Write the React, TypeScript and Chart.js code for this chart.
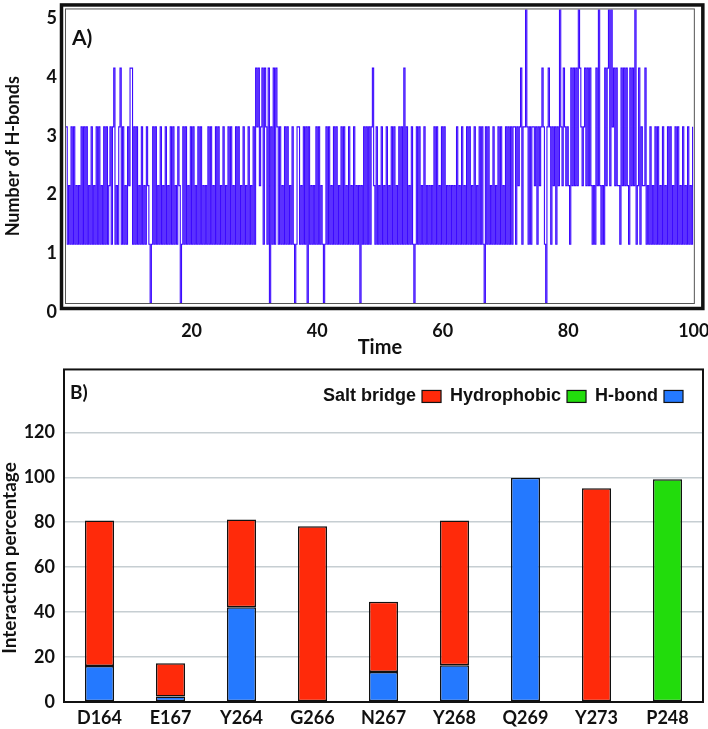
import React, { useEffect, useRef } from 'react';
import { Chart, registerables } from 'chart.js';

Chart.register(...registerables);

// ---------------- Panel A : number of H-bonds vs time ----------------
const TIME_STEP_NS = 0.2;
// one string per 5 ns, one digit per 0.2 ns frame (spaces only group the digits by 1 ns)
const HBOND_SEGMENTS = [
  '31213 13121 21313 13121 31213', // 0-5
  '13121 31312 31341 21341 31213', // 5-10
  '24413 13121 31213 21013 13121', // 10-15
  '31213 12131 31213 20131 31213', // 15-20
  '13121 31312 12131 31213 13121', // 20-25
  '31213 13121 31312 13121 31213', // 25-30
  '14342 34143 14031 41431 31213', // 30-35
  '13121 31013 31213 13031 21213', // 35-40
  '13121 01313 12131 31213 13121', // 40-45
  '31213 12120 21313 13134 21312', // 45-50
  '13121 31213 13121 31314 13121', // 50-55
  '31013 13121 31212 12131 31213', // 55-60
  '13121 21212 13121 31213 13121', // 60-65
  '31213 13103 13121 31213 13121', // 65-70
  '31313 13313 23413 35313 13323', // 70-75
  '13234 31034 31323 13253 24323', // 75-80
  '21424 24254 32342 42421 21425', // 80-85
  '21214 24525 34242 21424 24214', // 85-90
  '24251 24132 24121 31213 13121', // 90-95
  '31213 13121 31312 13121 31213', // 95-100
];
const TIME_TICKS = [20, 40, 60, 80, 100];
const HBOND_TICKS = [0, 1, 2, 3, 4, 5];

// ---------------- Panel B : interaction percentage ----------------
const RESIDUES = ['D164', 'E167', 'Y264', 'G266', 'N267', 'Y268', 'Q269', 'Y273', 'P248'];
const HBOND_PCT = [16, 2.5, 42.2, null, 13.3, 16.3, 99.8, null, null];
const SALT_BRIDGE_PCT = [64.8, 14.8, 39.0, 78.2, 31.3, 64.5, null, 95.1, null];
const HYDROPHOBIC_PCT = [null, null, null, null, null, null, null, null, 99.1];
const PCT_TICKS = [0, 20, 40, 60, 80, 100, 120];
const LEGEND_ORDER = ['Salt bridge', 'Hydrophobic', 'H-bond'];

const FONT = 'Lato';
const INK = '#111111';

const hbondValues = HBOND_SEGMENTS.join('').replace(/\s/g, '').split('').map(Number);
const hbondPoints = hbondValues.map((v, i) => ({ x: i * TIME_STEP_NS, y: v }));

const frameA = {
  id: 'frameA',
  afterDraw(chart: any) {
    const { ctx, chartArea: a } = chart;
    ctx.save();
    ctx.strokeStyle = '#555';
    ctx.lineWidth = 1;
    ctx.strokeRect(a.left - 0.5, a.top - 0.5, a.right - a.left + 1, a.bottom - a.top + 1);
    ctx.strokeStyle = INK;
    ctx.lineWidth = 3.5;
    ctx.strokeRect(a.left - 4.5, a.top - 4.5, a.right - a.left + 13.5, a.bottom - a.top + 10);
    ctx.fillStyle = INK;
    ctx.font = `bold 21px ${FONT}`;
    ctx.textAlign = 'left';
    ctx.textBaseline = 'middle';
    ctx.fillText('A)', a.left + 6, a.top + 29);
    ctx.restore();
  },
};

const frameB = {
  id: 'frameB',
  afterDraw(chart: any) {
    const { ctx, chartArea: a } = chart;
    ctx.save();
    ctx.strokeStyle = INK;
    ctx.lineWidth = 2;
    ctx.strokeRect(a.left, a.top, a.right - a.left, a.bottom - a.top);

    ctx.fillStyle = INK;
    ctx.textBaseline = 'middle';
    ctx.textAlign = 'left';
    ctx.font = `bold 19px ${FONT}`;
    ctx.fillText('B)', a.left + 6, a.top + 23);

    // y-axis title
    ctx.save();
    ctx.translate(10, a.bottom - 144);
    ctx.rotate(-Math.PI / 2);
    ctx.textAlign = 'center';
    ctx.font = `bold 19px ${FONT}`;
    ctx.fillText('Interaction percentage', 0, 0);
    ctx.restore();

    // legend: label followed by its colour box, laid out right-aligned
    const items = LEGEND_ORDER.map((lab) => chart.data.datasets.find((d: any) => d.label === lab));
    ctx.font = 'bold 18px "Liberation Sans"';
    const boxW = 19, boxH = 12, gapText = 6, gapItem = 9;
    const widths = items.map((d: any) => ctx.measureText(d.label).width);
    const total = widths.reduce((s: number, w: number) => s + w + gapText + boxW, 0) + gapItem * (items.length - 1);
    let x = a.right - 20 - total;
    const y = a.top + 27;
    items.forEach((d: any, i: number) => {
      ctx.fillStyle = INK;
      ctx.textAlign = 'left';
      ctx.fillText(d.label, x, y);
      x += widths[i] + gapText;
      ctx.fillStyle = d.backgroundColor;
      ctx.fillRect(x, y - boxH / 2, boxW, boxH);
      ctx.strokeStyle = INK;
      ctx.lineWidth = 1.2;
      ctx.strokeRect(x, y - boxH / 2, boxW, boxH);
      x += boxW + gapItem;
    });
    ctx.restore();
  },
};

function HBondChart() {
  const ref = useRef<HTMLCanvasElement>(null);
  useEffect(() => {
    const chart = new Chart(ref.current!, {
      type: 'line',
      data: {
        datasets: [
          {
            label: 'H-bonds',
            data: hbondPoints,
            borderColor: 'rgb(60,10,255)',
            borderWidth: 1.1,
            pointRadius: 0,
            stepped: true,
            tension: 0,
          },
        ],
      },
      options: {
        animation: false,
        responsive: false,
        devicePixelRatio: 1,
        layout: { padding: { top: 6, right: 0, left: 0, bottom: 0 } },
        plugins: { legend: { display: false }, tooltip: { enabled: false } },
        scales: {
          x: {
            type: 'linear',
            min: 0,
            max: 100,
            grid: { display: false, drawTicks: false },
            border: { display: false },
            afterBuildTicks: (s: any) => {
              s.ticks = TIME_TICKS.map((v) => ({ value: v }));
            },
            ticks: {
              padding: -1.5,
              maxRotation: 0,
              autoSkip: false,
              color: INK,
              font: { family: FONT, weight: 'bold', size: 18, lineHeight: 3.25 },
            },
            title: {
              display: true,
              text: 'Time',
              color: INK,
              padding: { top: 0, bottom: 0 },
              font: { family: FONT, weight: 'bold', size: 20 },
            },
            afterFit: (s: any) => {
              s.height = 57;
            },
          },
          y: {
            min: 0,
            max: 5,
            grid: { display: false, drawTicks: false },
            border: { display: false },
            afterBuildTicks: (s: any) => {
              s.ticks = HBOND_TICKS.map((v) => ({ value: v }));
            },
            ticks: {
              padding: 9,
              labelOffset: 9,
              color: INK,
              font: { family: FONT, weight: 'bold', size: 18, lineHeight: 0.05 },
            },
            title: {
              display: true,
              text: 'Number of H-bonds',
              color: INK,
              padding: { top: 2, bottom: 0 },
              font: { family: FONT, weight: 'bold', size: 18 },
            },
            afterFit: (s: any) => {
              s.width = 66;
            },
          },
        },
      },
      plugins: [frameA],
    } as any);
    return () => chart.destroy();
  }, []);
  return <canvas ref={ref} width={708} height={360} style={{ display: 'block', width: 708, height: 360 }} />;
}

function InteractionChart() {
  const ref = useRef<HTMLCanvasElement>(null);
  useEffect(() => {
    const common = {
      borderColor: INK,
      borderWidth: 1.5,
      borderSkipped: false,
      categoryPercentage: 1,
      barPercentage: 0.41,
    };
    const chart = new Chart(ref.current!, {
      type: 'bar',
      data: {
        labels: RESIDUES,
        datasets: [
          { label: 'H-bond', data: HBOND_PCT, backgroundColor: '#2479ff', ...common },
          { label: 'Salt bridge', data: SALT_BRIDGE_PCT, backgroundColor: '#ff2a0a', ...common },
          { label: 'Hydrophobic', data: HYDROPHOBIC_PCT, backgroundColor: '#22dc0c', ...common },
        ],
      },
      options: {
        animation: false,
        responsive: false,
        devicePixelRatio: 1,
        layout: { padding: { top: 8, right: 5, left: 0, bottom: 0 } },
        plugins: { legend: { display: false }, tooltip: { enabled: false } },
        scales: {
          x: {
            stacked: true,
            grid: { display: false, drawTicks: false },
            border: { display: false },
            ticks: {
              padding: 5,
              color: INK,
              maxRotation: 0,
              font: { family: FONT, weight: 'bold', size: 18 },
            },
            afterFit: (s: any) => {
              s.height = 27;
            },
          },
          y: {
            stacked: true,
            min: 0,
            max: 148,
            border: { display: false },
            grid: { color: '#c6ced2', lineWidth: 1.5, drawTicks: false },
            afterBuildTicks: (s: any) => {
              s.ticks = PCT_TICKS.map((v) => ({ value: v }));
            },
            ticks: {
              padding: 9,
              color: INK,
              font: { family: FONT, weight: 'bold', size: 18, lineHeight: 0.05 },
            },
            afterFit: (s: any) => {
              s.width = 64;
            },
          },
        },
      },
      plugins: [frameB],
    } as any);
    return () => chart.destroy();
  }, []);
  return <canvas ref={ref} width={708} height={369} style={{ display: 'block', width: 708, height: 369 }} />;
}

export default function App() {
  return (
    <div style={{ position: 'fixed', left: 0, top: 0, width: 708, height: 729, background: '#ffffff' }}>
      <HBondChart />
      <InteractionChart />
    </div>
  );
}
